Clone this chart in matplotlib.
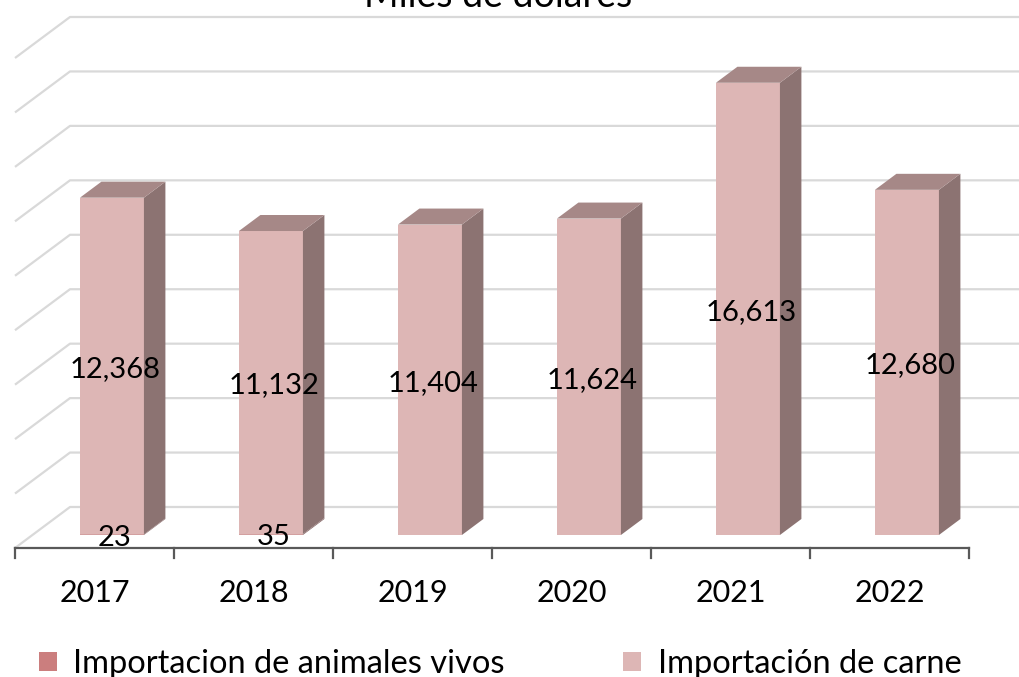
import matplotlib.pyplot as plt
from matplotlib.patches import Polygon, Rectangle

years = ['2017', '2018', '2019', '2020', '2021', '2022']
live = [23, 35, None, None, None, None]
meat = [12368, 11132, 11404, 11624, 16613, 12680]
grid_values = list(range(0, 18001, 2000))

title = 'Miles de dólares'
legend_labels = ['Importacion de animales vivos', 'Importación de carne']

plt.rcParams['font.family'] = ['Lato', 'DejaVu Sans']

W, H = 1019, 677
fig = plt.figure(figsize=(W / 100, H / 100), dpi=100)
ax = fig.add_axes([0, 0, 1, 1])
ax.axis('off')

# pixel layout of the fake 3d box
x_left, cat_w = 15, 159
base_px = 548
unit_px = 490 / 18000
ax.set_xlim(-0.5 - x_left / cat_w, -0.5 + (W - x_left) / cat_w)
ax.set_ylim((base_px - H) / unit_px, base_px / unit_px)

DX = 55 / cat_w       # full floor depth along x
DY = 41 / unit_px     # full floor depth along y
d1, d2 = 13 / 41, 29 / 41
hw = 32 / cat_w
lab_shift = 5 / unit_px


def proj(x, v, d):
    return (x + d * DX, v + d * DY)


# walls / gridlines
x_end = len(years) - 0.5
for g in grid_values:
    pts = [proj(-0.5, g, 0), proj(-0.5, g, 1), proj(x_end + 0.3, g, 1)]
    ax.plot(*zip(*pts), color='#D9D9D9', lw=1.6, zorder=1, solid_capstyle='butt')

# front axis and ticks
ax.plot([-0.5, x_end], [0, 0], color='#595959', lw=1.6, zorder=2)
tick_len = 10 / unit_px
for i in range(len(years) + 1):
    ax.plot([i - 0.5, i - 0.5], [0, -tick_len], color='#595959', lw=1.6, zorder=2)


def draw_block(i, v0, v1, front, side, top, with_top):
    fx0, fy0 = proj(i - hw, v0, d1)
    fx1, fy1 = proj(i + hw, v1, d1)
    ax.add_patch(Rectangle((fx0, fy0), fx1 - fx0, fy1 - fy0, facecolor=front,
                           edgecolor='none', zorder=3))
    ax.add_patch(Polygon([proj(i + hw, v0, d1), proj(i + hw, v0, d2),
                          proj(i + hw, v1, d2), proj(i + hw, v1, d1)],
                         closed=True, facecolor=side, edgecolor='none', zorder=3))
    if with_top:
        ax.add_patch(Polygon([proj(i - hw, v1, d1), proj(i + hw, v1, d1),
                              proj(i + hw, v1, d2), proj(i - hw, v1, d2)],
                             closed=True, facecolor=top, edgecolor='none', zorder=3))


for i, year in enumerate(years):
    lv = live[i] or 0
    if lv:
        draw_block(i, 0, lv, '#D3A0A0', '#8A6A6A', '#A68080', False)
    draw_block(i, lv, lv + meat[i], '#DDB6B5', '#8C7372', '#A68887', True)

    # data labels
    lx, ly = proj(i, lv + meat[i] / 2, 0.37)
    ax.text(lx, ly - lab_shift, f'{meat[i]:,}', ha='center', va='center',
            fontsize=21, color='black', zorder=5)
    if live[i] is not None:
        lx, ly = proj(i, lv / 2, 0.37)
        ax.text(lx, ly - lab_shift, f'{live[i]:,}', ha='center', va='center',
                fontsize=21, color='black', zorder=5)

    ax.text(i, (base_px - 593) / unit_px, year, ha='center', va='center',
            fontsize=22, color='black')

# title (cut at top like the original)
fig.text(498 / W, 1 - 7 / H, title, ha='center', va='baseline', fontsize=27,
         color='black')

# legend
leg_colors = ['#CB7E7E', '#DDB6B5']
sq_x = [39, 623]
txt_x = [73, 658]
for c, sx, tx, lab in zip(leg_colors, sq_x, txt_x, legend_labels):
    fig.patches.append(Rectangle((sx / W, 1 - 671 / H), 18 / W, 19 / H,
                                 transform=fig.transFigure, facecolor=c,
                                 edgecolor='none'))
    fig.text(tx / W, 1 - 673 / H, lab, ha='left', va='baseline', fontsize=23.5,
             color='black')

fig.savefig('out.png', dpi=100, facecolor='white')
